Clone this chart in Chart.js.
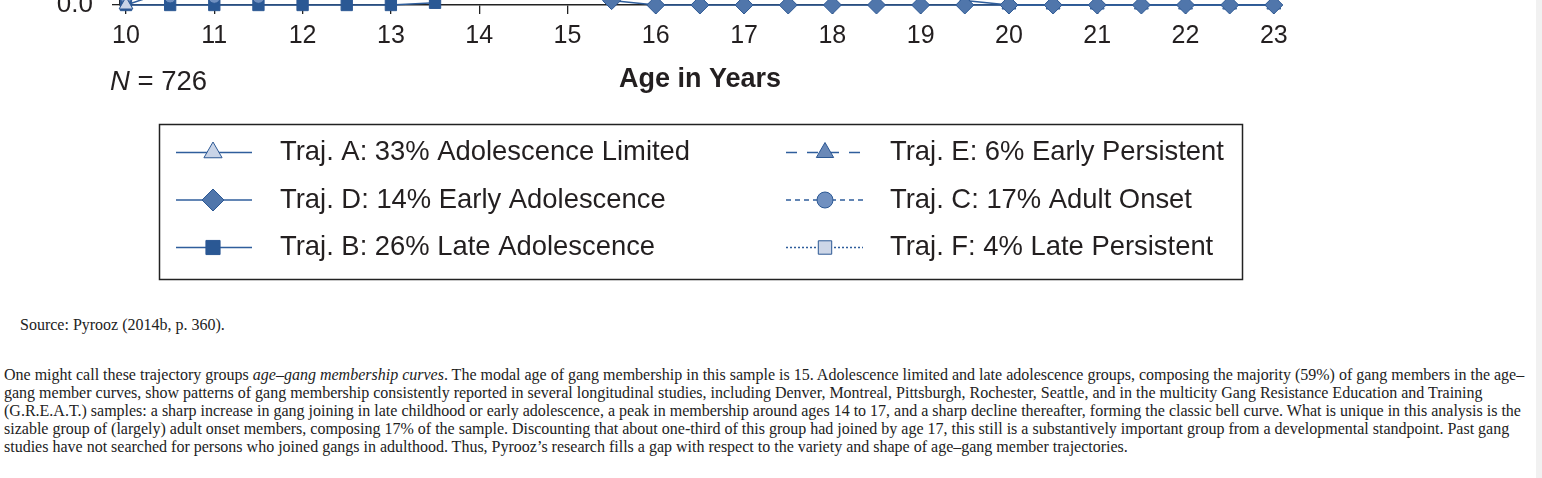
<!DOCTYPE html>
<html>
<head>
<meta charset="utf-8">
<title>Age-gang membership curves</title>
<script src="https://cdn.jsdelivr.net/npm/chart.js@4.4.1/dist/chart.umd.min.js"></script>
<style>
  html, body { margin: 0; padding: 0; background: #fff; overflow: hidden; }
  #chartWrap { position: absolute; left: 0; top: -395px; width: 1300px; height: 690px; }
  #source { position: absolute; left: 20px; top: 316px; font: 16px "Liberation Serif", "Times New Roman", serif; line-height: 18px; color: #222; }
  #para { position: absolute; left: 4px; top: 366px; font: 16px "Liberation Serif", "Times New Roman", serif; line-height: 18px; color: #222; }
  #para div { white-space: nowrap; }
  #scrollbar { position: absolute; left: 1536px; top: 0; width: 6px; height: 478px; background: #f1f1f1; }
</style>
</head>
<body>
<div id="chartWrap"><canvas id="trajChart" width="1300" height="690"></canvas></div>
<div id="source">Source: Pyrooz (2014b, p. 360).</div>
<div id="para">
  <div>One might call these trajectory groups <i>age–gang membership curves</i>. The modal age of gang membership in this sample is 15. Adolescence limited and late adolescence groups, composing the majority (59%) of gang members in the age–</div>
  <div>gang member curves, show patterns of gang membership consistently reported in several longitudinal studies, including Denver, Montreal, Pittsburgh, Rochester, Seattle, and in the multicity Gang Resistance Education and Training</div>
  <div>(G.R.E.A.T.) samples: a sharp increase in gang joining in late childhood or early adolescence, a peak in membership around ages 14 to 17, and a sharp decline thereafter, forming the classic bell curve. What is unique in this analysis is the</div>
  <div>sizable group of (largely) adult onset members, composing 17% of the sample. Discounting that about one-third of this group had joined by age 17, this still is a substantively important group from a developmental standpoint. Past gang</div>
  <div>studies have not searched for persons who joined gangs in adulthood. Thus, Pyrooz’s research fills a gap with respect to the variety and shape of age–gang member trajectories.</div>
</div>
<div id="scrollbar"></div>

<script>
// ages where each trajectory is plotted (half-year steps)
const ages = [10, 10.5, 11, 11.5, 12, 12.5, 13, 13.5, 14, 14.5, 15, 15.5, 16, 16.5, 17,
              17.5, 18, 18.5, 19, 19.5, 20, 20.5, 21, 21.5, 22, 22.5, 23];
const xTicks = [10, 11, 12, 13, 14, 15, 16, 17, 18, 19, 20, 21, 22, 23];
const yTicks = [0, 0.2, 0.4, 0.6, 0.8, 1.0];
const sampleSize = 726;

// legend order: left column A, D, B - right column E, C, F
const trajLabels = [
    'Traj. A: 33% Adolescence Limited',
    'Traj. D: 14% Early Adolescence',
    'Traj. B: 26% Late Adolescence',
    'Traj. E: 6% Early Persistent',
    'Traj. C: 17% Adult Onset',
    'Traj. F: 4% Late Persistent'
];

// probability of membership per age (only the bottom of the plot is readable)
const trajA = [0.00, 0.04, 0.10, 0.18, 0.28, 0.38, 0.47, 0.54, 0.58, 0.58, 0.55, 0.49, 0.41, 0.33,
               0.25, 0.18, 0.12, 0.08, 0.04, 0.012, 0, 0, 0, 0, 0, 0, 0];
const trajD = [0.30, 0.42, 0.55, 0.65, 0.70, 0.68, 0.60, 0.47, 0.32, 0.18, 0.06, 0.012, 0, 0,
               0, 0, 0, 0, 0, 0, 0, 0, 0, 0, 0, 0, 0];
const trajB = [0, 0, 0, 0, 0, 0, 0, 0.006, 0.08, 0.20, 0.34, 0.47, 0.57, 0.62,
               0.62, 0.58, 0.51, 0.43, 0.35, 0.28, 0.22, 0.17, 0.13, 0.10, 0.08, 0.07, 0.06];
const trajE = [0.38, 0.48, 0.58, 0.67, 0.74, 0.80, 0.84, 0.86, 0.87, 0.87, 0.86, 0.84, 0.82, 0.80,
               0.78, 0.76, 0.74, 0.72, 0.70, 0.67, 0.64, 0.61, 0.58, 0.55, 0.52, 0.50, 0.48];
const trajC = [0.021, 0.022, 0.021, 0.021, 0.03, 0.04, 0.05, 0.06, 0.08, 0.10, 0.12, 0.15, 0.18, 0.22,
               0.26, 0.30, 0.34, 0.38, 0.42, 0.45, 0.48, 0.51, 0.54, 0.56, 0.58, 0.60, 0.61];
const trajF = [0.03, 0.04, 0.05, 0.06, 0.07, 0.09, 0.12, 0.16, 0.21, 0.27, 0.34, 0.42, 0.50, 0.58,
               0.65, 0.71, 0.76, 0.80, 0.83, 0.85, 0.87, 0.88, 0.89, 0.90, 0.90, 0.91, 0.91];

const seriesValues = [trajA, trajD, trajB, trajE, trajC, trajF];

const textColor = '#231f20';
const lineColor = '#2f5e9c';
const markBorder = '#2c5894';
const FONT = '"Liberation Sans", Arial, Helvetica, sans-serif';

// marker look per series (same order as labels)
const looks = [
    { shape: 'triangle', fill: '#c9d4e7', dash: [],       r: 8,   legendR: 10.5, order: 2 },
    { shape: 'rectRot',  fill: '#5076ab', dash: [],       r: 9,   legendR: 11,   order: 1 },
    { shape: 'rect',     fill: '#2a5894', dash: [],       r: 8,   legendR: 10,   order: 4 },
    { shape: 'triangle', fill: '#6a89b8', dash: [11, 10], r: 8,   legendR: 10,   order: 5 },
    { shape: 'circle',   fill: '#7090c0', dash: [5, 4],   r: 6,   legendR: 8,    order: 3 },
    { shape: 'rect',     fill: '#cdd6e7', dash: [2, 2],   r: 8,   legendR: 9.5,  order: 6 }
];

const datasets = seriesValues.map((vals, i) => ({
    label: trajLabels[i],
    data: ages.map((a, k) => ({ x: a, y: vals[k] })),
    borderColor: lineColor,
    borderWidth: 1.5,
    borderDash: looks[i].dash,
    pointStyle: looks[i].shape,
    pointRadius: looks[i].r,
    pointBackgroundColor: looks[i].fill,
    pointBorderColor: markBorder,
    pointBorderWidth: 1,
    tension: 0,
    clip: false,
    order: looks[i].order
}));

function drawMarker(ctx, shape, x, y, r, fill, stroke) {
    ctx.beginPath();
    if (shape === 'circle') {
        ctx.arc(x, y, r, 0, Math.PI * 2);
    } else if (shape === 'rect') {
        const s = r * Math.SQRT1_2;
        ctx.rect(x - s, y - s, 2 * s, 2 * s);
    } else if (shape === 'rectRot') {
        ctx.moveTo(x, y - r); ctx.lineTo(x + r, y); ctx.lineTo(x, y + r); ctx.lineTo(x - r, y);
        ctx.closePath();
    } else {
        ctx.moveTo(x, y - r); ctx.lineTo(x + r * 0.866, y + r / 2); ctx.lineTo(x - r * 0.866, y + r / 2);
        ctx.closePath();
    }
    ctx.fillStyle = fill;
    ctx.fill();
    ctx.strokeStyle = stroke;
    ctx.lineWidth = 1;
    ctx.stroke();
}

// N label + the boxed two-column legend under the axis
const extrasPlugin = {
    id: 'extras',
    afterDraw(chart) {
        const ctx = chart.ctx;
        const base = chart.chartArea.bottom;
        ctx.save();
        ctx.textBaseline = 'middle';
        ctx.textAlign = 'left';
        ctx.fillStyle = textColor;
        ctx.font = 'italic 27.5px ' + FONT;
        ctx.fillText('N', 110, base + 77);
        const nW = ctx.measureText('N').width;
        ctx.font = '27.5px ' + FONT;
        ctx.fillText(' = ' + sampleSize, 110 + nW, base + 77);

        ctx.strokeStyle = '#222';
        ctx.lineWidth = 1.5;
        ctx.strokeRect(159.5, base + 119.5, 1083, 155);

        chart.data.datasets.forEach((ds, i) => {
            const col = Math.floor(i / 3), row = i % 3;
            const y = base + 147.5 + row * 47.5;
            const x0 = col ? 786 : 176, x1 = col ? 863 : 252;
            const mx = col ? 825 : 213, tx = col ? 890 : 280;
            ctx.setLineDash(ds.borderDash);
            ctx.strokeStyle = ds.borderColor;
            ctx.lineWidth = 1.5;
            ctx.beginPath(); ctx.moveTo(x0, y); ctx.lineTo(x1, y); ctx.stroke();
            ctx.setLineDash([]);
            drawMarker(ctx, ds.pointStyle, mx, y, looks[i].legendR, ds.pointBackgroundColor, ds.pointBorderColor);
            ctx.fillStyle = textColor;
            ctx.font = '27.4px ' + FONT;
            ctx.fillText(ds.label, tx, y);
        });
        ctx.restore();
    }
};

new Chart(document.getElementById('trajChart').getContext('2d'), {
    type: 'line',
    data: { datasets: datasets },
    options: {
        responsive: false,
        animation: false,
        events: [],
        layout: { padding: { top: 20, right: 20, bottom: 195, left: 0 } },
        plugins: { legend: { display: false }, tooltip: { enabled: false } },
        scales: {
            x: {
                type: 'linear',
                min: 9.932,
                max: 23.07,
                afterBuildTicks: s => { s.ticks = xTicks.map(v => ({ value: v })); },
                afterFit: s => { s.height = 95; },
                ticks: { color: textColor, font: { family: FONT, size: 25 }, padding: 7, maxRotation: 0 },
                grid: { drawOnChartArea: false, tickLength: 9, color: '#222', lineWidth: 1.3 },
                border: { color: '#222', width: 1.5 },
                title: {
                    display: true,
                    text: 'Age in Years',
                    color: textColor,
                    font: { family: FONT, size: 27, weight: 'bold' },
                    padding: { top: 0, bottom: 4 }
                }
            },
            y: {
                min: 0,
                max: 1,
                afterBuildTicks: s => { s.ticks = yTicks.map(v => ({ value: v })); },
                afterFit: s => { s.width = 120; },
                ticks: { color: textColor, font: { family: FONT, size: 26 }, padding: 19,
                         callback: v => Number(v).toFixed(1) },
                grid: { drawOnChartArea: false, tickLength: 8, color: '#222', lineWidth: 1.3 },
                border: { color: '#222', width: 1.5 }
            }
        }
    },
    plugins: [extrasPlugin]
});
</script>
</body>
</html>
